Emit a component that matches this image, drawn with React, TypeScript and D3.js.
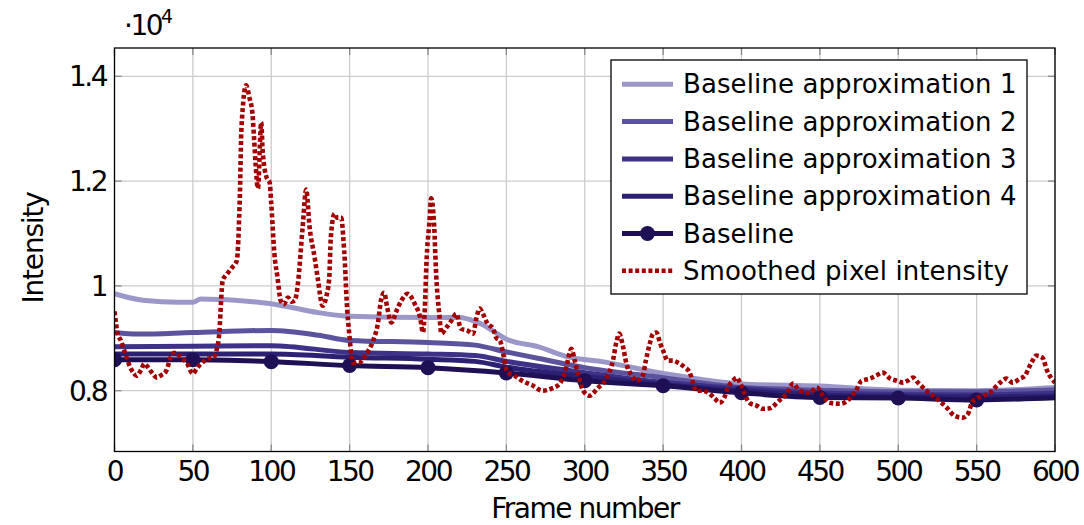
import React from 'react';
import * as d3 from 'd3';

// ---- data ----
const xTicks = [0, 50, 100, 150, 200, 250, 300, 350, 400, 450, 500, 550, 600];
const yTicks = [8000, 10000, 12000, 14000];
const yTickLabels = ['0.8', '1', '1.2', '1.4'];

const approx1Frames = [0, 15, 30, 50, 55, 100, 130, 150, 200, 220, 232, 252, 270, 290, 310, 350, 400, 450, 500, 550, 600];
const approx1Values = [9850, 9740, 9700, 9690, 9750, 9660, 9490, 9420, 9395, 9395, 9300, 8960, 8840, 8640, 8560, 8330, 8130, 8090, 8010, 8000, 8060];

const approx2Frames = [0, 15, 50, 100, 130, 150, 200, 230, 250, 270, 300, 350, 400, 450, 500, 550, 600];
const approx2Values = [9110, 9080, 9110, 9150, 9060, 8960, 8920, 8870, 8740, 8620, 8440, 8250, 8060, 8010, 7980, 7980, 8020];

const approx3Frames = [0, 50, 100, 150, 200, 230, 250, 300, 350, 400, 450, 500, 550, 600];
const approx3Values = [8840, 8850, 8860, 8730, 8700, 8670, 8560, 8345, 8160, 8040, 7960, 7930, 7920, 7950];

const approx4Frames = [0, 50, 100, 150, 200, 230, 250, 300, 350, 400, 450, 500, 550, 600];
const approx4Values = [8700, 8700, 8700, 8640, 8600, 8560, 8450, 8270, 8120, 8000, 7920, 7890, 7880, 7900];

const baselineFrames = [0, 50, 100, 150, 200, 250, 300, 350, 400, 450, 500, 550, 600];
const baselineValues = [8590, 8590, 8555, 8480, 8440, 8340, 8190, 8095, 7960, 7870, 7860, 7825, 7865];
const baselineMarkFrames = [0, 50, 100, 150, 200, 250, 300, 350, 400, 450, 500, 550];

const smoothFrames = [
  0, 1, 2, 4, 7, 10, 12, 14, 17, 19, 22, 25, 27, 30, 33, 36, 38, 40, 43, 46,
  50, 52, 54, 57, 59, 63, 65, 67, 68, 69, 72, 75, 78, 80, 81, 84, 86, 88, 89, 90,
  91.5, 93.6, 94.5, 97, 99, 100, 102, 104, 106, 108, 110.7, 113, 115, 117, 120, 122.3, 124.5, 127.7, 129.6, 132.8,
  135, 137, 138, 140.4, 142, 144.7, 146, 147, 148, 150, 152, 156, 160.6, 165, 168, 170, 172, 174, 176.6, 180,
  183, 187, 191.5, 195, 196.8, 198, 199, 201, 202, 204, 205, 207.4, 208.5, 211.7, 215, 218, 221, 225, 228.7, 231,
  233, 235, 238, 241.5, 243.6, 246, 248, 250, 252, 255, 260, 267, 273, 278.7, 284, 288, 290.4, 291.5, 293.6, 295.7,
  299, 303, 308, 314, 318, 320, 322, 324, 326.6, 330, 333, 337, 339, 341.5, 343.6, 345.7, 348, 350, 353, 356,
  359.5, 364, 367, 369, 371, 375, 379, 383, 386, 389, 391, 394.5, 397, 399, 402, 405, 409.6, 413.6, 418, 424,
  428.7, 433, 437, 443.6, 448, 452, 456, 463, 469, 473, 476.6, 482, 486, 490, 495, 499, 503, 506, 509.5, 512.6,
  518, 524.5, 531, 536, 541, 544.5, 547, 550, 554, 558.5, 561.7, 565, 569, 573, 577.6, 581, 583, 585, 588, 592,
  595, 600,
];
const smoothValues = [
  9515, 9280, 9090, 8960, 8700, 8450, 8344, 8287, 8400, 8515, 8420, 8300, 8250, 8300, 8380, 8650, 8725, 8700, 8620, 8535,
  8325, 8400, 8480, 8560, 8610, 8630, 8760, 9150, 9720, 10100, 10235, 10350, 10480, 11760, 13020, 13830, 13600, 13290, 12830, 12340,
  11860, 13120, 12585, 12070, 11970, 11570, 10615, 10160, 9720, 9650, 9780, 9700, 9720, 10040, 11110, 11840, 11110, 10540, 10160, 9620,
  9780, 10160, 10920, 11380, 11300, 11300, 10900, 10430, 9780, 9010, 8535, 8535, 8700, 8955, 9280, 9720, 9870, 9585, 9300, 9530,
  9720, 9850, 9660, 9395, 9110, 9585, 10430, 11250, 11670, 11110, 10350, 9400, 9090, 9205, 9340, 9470, 9185, 9150, 9090, 9400,
  9570, 9470, 9280, 9185, 9010, 8950, 8700, 8400, 8330, 8290, 8190, 8095, 8000, 8040, 8135, 8420, 8725, 8800, 8575, 8325,
  8000, 7905, 8040, 8250, 8575, 8900, 9090, 8900, 8515, 8290, 8190, 8290, 8575, 8900, 9090, 9110, 8915, 8765, 8575, 8575,
  8535, 8440, 8345, 8155, 8000, 8000, 7960, 7850, 7770, 7865, 8040, 8190, 8250, 8155, 7940, 7770, 7715, 7655, 7665, 7810,
  7940, 8135, 8000, 7960, 8060, 7905, 7770, 7750, 7850, 8000, 8190, 8230, 8290, 8345, 8230, 8190, 8155, 8190, 8250, 8155,
  8000, 7850, 7675, 7520, 7485, 7560, 7770, 7850, 7905, 7960, 8060, 8155, 8230, 8155, 8230, 8290, 8420, 8535, 8670, 8630,
  8380, 8155,
];

const legendLabels = [
  'Baseline approximation 1',
  'Baseline approximation 2',
  'Baseline approximation 3',
  'Baseline approximation 4',
  'Baseline',
  'Smoothed pixel intensity',
];

const colors = ['#9b98c9', '#5b539e', '#3d3288', '#2c2073', '#1f0f55'];
const red = '#a30000';
const dots = '4 2.6';

const W = 1084;
const H = 525;
const left = 114.5;
const right = 1055;
const top = 48;
const bottom = 451.5;

const font = '"DejaVu Sans", sans-serif';

const App = () => {
  const x = d3.scaleLinear().domain([0, 600]).range([left, right]);
  const y = d3.scaleLinear().domain([6840, 14540]).range([bottom, top]);

  const line = (frames: number[], values: number[]) =>
    d3
      .line<number>()
      .x((_, i) => x(frames[i]))
      .y((v) => y(v))
      .curve(d3.curveMonotoneX)(values) || '';

  const approxSeries = [
    [approx1Frames, approx1Values],
    [approx2Frames, approx2Values],
    [approx3Frames, approx3Values],
    [approx4Frames, approx4Values],
  ];

  const legX = 611;
  const legY = 60;
  const rowH = 37.3;

  return (
    <svg width={W} height={H} style={{ position: 'absolute', left: 0, top: 0, background: '#fff' }} fontFamily={font}>
      {/* grid */}
      <g stroke="#cccccc" strokeWidth={1.3}>
        {xTicks.map((t) => (
          <line key={'gx' + t} x1={x(t)} x2={x(t)} y1={top} y2={bottom} />
        ))}
        {yTicks.map((t) => (
          <line key={'gy' + t} x1={left} x2={right} y1={y(t)} y2={y(t)} />
        ))}
      </g>
      {/* ticks */}
      <g stroke="#8a8a8a" strokeWidth={1.3}>
        {xTicks.map((t) => (
          <g key={'tx' + t}>
            <line x1={x(t)} x2={x(t)} y1={bottom} y2={bottom - 7} />
            <line x1={x(t)} x2={x(t)} y1={top} y2={top + 7} />
          </g>
        ))}
        {yTicks.map((t) => (
          <g key={'ty' + t}>
            <line x1={left} x2={left + 7} y1={y(t)} y2={y(t)} />
            <line x1={right} x2={right - 7} y1={y(t)} y2={y(t)} />
          </g>
        ))}
      </g>

      <defs>
        <clipPath id="plot">
          <rect x={left} y={top} width={right - left} height={bottom - top} />
        </clipPath>
      </defs>

      <g clipPath="url(#plot)" fill="none" strokeLinejoin="round">
        {approxSeries.map(([f, v], i) => (
          <path key={'a' + i} d={line(f, v)} stroke={colors[i]} strokeWidth={5} />
        ))}
        <path d={line(baselineFrames, baselineValues)} stroke={colors[4]} strokeWidth={5} />
        {baselineMarkFrames.map((f) => (
          <circle
            key={'m' + f}
            cx={x(f)}
            cy={y(baselineValues[baselineFrames.indexOf(f)])}
            r={7.5}
            fill={colors[4]}
          />
        ))}
        <path
          d={line(smoothFrames, smoothValues)}
          stroke={red}
          strokeWidth={4.6}
          strokeDasharray={dots}
          strokeLinejoin="miter"
        />
      </g>

      {/* axis box */}
      <rect x={left} y={top} width={right - left} height={bottom - top} fill="none" stroke="#000" strokeWidth={1.3} />

      {/* tick labels */}
      <g fontSize={28} letterSpacing={-2.5} fill="#000">
        {xTicks.map((t) => (
          <text key={'lx' + t} x={x(t)} y={481} textAnchor="middle">
            {t}
          </text>
        ))}
        {yTicks.map((t, i) => (
          <text key={'ly' + t} x={106} y={y(t) + 10} textAnchor="end">
            {yTickLabels[i]}
          </text>
        ))}
        <text x={124} y={35}>
          ·10
          <tspan dy={-12} fontSize={19}>
            4
          </tspan>
        </text>
      </g>

      {/* axis titles */}
      <text x={585} y={518} textAnchor="middle" fontSize={28} letterSpacing={-1.5}>
        Frame number
      </text>
      <text transform="translate(43,248) rotate(-90)" textAnchor="middle" fontSize={28} letterSpacing={-1.2}>
        Intensity
      </text>

      {/* legend */}
      <rect x={legX} y={legY} width={416} height={234} fill="#fff" stroke="#000" strokeWidth={1.3} />
      {legendLabels.map((lab, i) => {
        const cy = legY + 24.3 + i * rowH;
        return (
          <g key={'lg' + i}>
            {i < 5 ? (
              <line x1={622} x2={673} y1={cy} y2={cy} stroke={colors[i]} strokeWidth={5} />
            ) : (
              <line x1={622} x2={673} y1={cy} y2={cy} stroke={red} strokeWidth={4.6} strokeDasharray={dots} />
            )}
            {i === 4 && <circle cx={647.5} cy={cy} r={7.5} fill={colors[4]} />}
            <text x={683} y={cy + 9} fontSize={26} letterSpacing={0.1} fill="#000">
              {lab}
            </text>
          </g>
        );
      })}
    </svg>
  );
};

export default App;
